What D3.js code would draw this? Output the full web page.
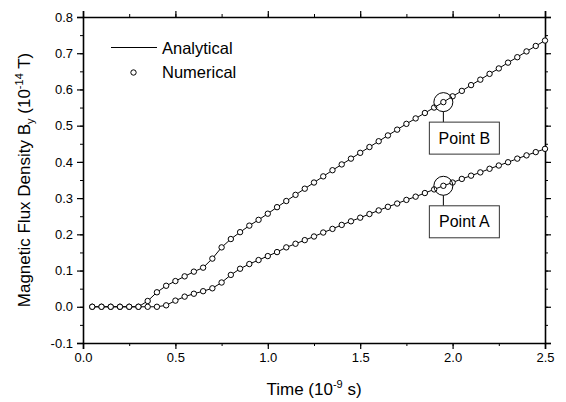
<!DOCTYPE html>
<html>
<head>
<meta charset="utf-8">
<script src="https://cdn.jsdelivr.net/npm/d3@7"></script>
<style>
  body { margin: 0; background: #fff; }
  text { font-family: "Liberation Sans", Arial, sans-serif; fill: #000; }
</style>
</head>
<body>
<svg id="chart" width="566" height="402"></svg>
<script>
// time in 1e-9 s, step 0.05
const times = d3.range(1, 51).map(i => +(i * 0.05).toFixed(2));

// point B (upper curve), 1e-14 T
const numericalB = [
  0, 0, 0, 0, 0, 0, 0.016, 0.040, 0.058, 0.071,
  0.084, 0.097, 0.108, 0.133, 0.164, 0.187, 0.206, 0.224, 0.240, 0.257,
  0.275, 0.292, 0.309, 0.326, 0.343, 0.360, 0.377, 0.393, 0.409, 0.425,
  0.441, 0.457, 0.473, 0.489, 0.505, 0.520, 0.535, 0.550, 0.565, 0.581,
  0.596, 0.612, 0.627, 0.643, 0.658, 0.674, 0.689, 0.705, 0.720, 0.735
];
// point A (lower curve)
const numericalA = [
  0, 0, 0, 0, 0, 0, 0, 0, 0.004, 0.017,
  0.028, 0.036, 0.043, 0.051, 0.067, 0.088, 0.105, 0.118, 0.129, 0.140,
  0.151, 0.164, 0.174, 0.184, 0.194, 0.205, 0.215, 0.226, 0.236, 0.246,
  0.256, 0.266, 0.276, 0.285, 0.295, 0.304, 0.314, 0.324, 0.334, 0.343,
  0.353, 0.362, 0.371, 0.381, 0.390, 0.399, 0.409, 0.418, 0.427, 0.436
];
// analytical solution passes through the same values at the sample times
const analyticalB = numericalB.slice();
const analyticalA = numericalA.slice();

const xTicks = [0, 0.5, 1.0, 1.5, 2.0, 2.5];
const yTicks = [-0.1, 0, 0.1, 0.2, 0.3, 0.4, 0.5, 0.6, 0.7, 0.8];

// annotated probe points
const probes = [
  { label: "Point B", t: 1.95, v: 0.565 },
  { label: "Point A", t: 1.95, v: 0.334 }
];

const margin = { left: 83, right: 21, top: 17, bottom: 59 };
const width = 566, height = 402;

const svg = d3.select('#chart');

const x = d3.scaleLinear().domain([0, 2.5]).range([margin.left, width - margin.right]);
const y = d3.scaleLinear().domain([-0.1, 0.8]).range([height - margin.bottom, margin.top]);

const minorX = d3.range(0, 2.51, 0.25);
const minorY = d3.range(-0.1, 0.801, 0.05);

// plain hyphen for negatives, like the original
const fmt = d => d.toFixed(1);

// axes: major ticks with labels, minor ticks without
function addAxis(axisFn, scale, pos, major, minor, labels) {
  svg.append('g')
    .attr('transform', pos)
    .call(axisFn(scale).tickValues(minor).tickSize(3).tickFormat(''))
    .call(g => g.select('.domain').remove());
  const g = svg.append('g')
    .attr('transform', pos)
    .call(axisFn(scale).tickValues(major).tickSize(6).tickPadding(4)
      .tickFormat(labels ? fmt : ''));
  g.select('.domain').attr('stroke-width', 1.6);
  g.selectAll('.tick line').attr('stroke-width', 1.2);
  g.selectAll('text').style('font-size', '13px').attr('fill', '#000');
  return g;
}

addAxis(d3.axisBottom, x, `translate(0,${y(-0.1)})`, xTicks, minorX, true);
addAxis(d3.axisTop, x, `translate(0,${y(0.8)})`, xTicks, minorX, false);
addAxis(d3.axisLeft, y, `translate(${x(0)},0)`, yTicks, minorY, true);
addAxis(d3.axisRight, y, `translate(${x(2.5)},0)`, yTicks, minorY, false);

// analytical lines
const line = d3.line().x((d, i) => x(times[i])).y(d => y(d));
[analyticalB, analyticalA].forEach(series => {
  svg.append('path')
    .datum(series)
    .attr('d', line)
    .attr('fill', 'none')
    .attr('stroke', '#000')
    .attr('stroke-width', 1);
});

// numerical circles
[numericalB, numericalA].forEach(series => {
  svg.append('g').selectAll('circle')
    .data(series)
    .enter()
    .append('circle')
    .attr('cx', (d, i) => x(times[i]))
    .attr('cy', d => y(d))
    .attr('r', 2.7)
    .attr('fill', '#fff')
    .attr('stroke', '#000')
    .attr('stroke-width', 1);
});

// probe annotations
probes.forEach(p => {
  const cx = x(p.t), cy = y(p.v);
  svg.append('circle')
    .attr('cx', cx).attr('cy', cy).attr('r', 9.5)
    .attr('fill', 'none').attr('stroke', '#000').attr('stroke-width', 1);
  svg.append('line')
    .attr('x1', cx).attr('x2', cx)
    .attr('y1', cy + 9.5).attr('y2', cy + 20)
    .attr('stroke', '#000').attr('stroke-width', 1);
  svg.append('rect')
    .attr('x', cx - 14).attr('y', cy + 20)
    .attr('width', 70).attr('height', 32)
    .attr('fill', '#fff').attr('stroke', '#333').attr('stroke-width', 1);
  svg.append('text')
    .attr('x', cx + 21).attr('y', cy + 41.5)
    .attr('text-anchor', 'middle')
    .style('font-size', '16px')
    .text(p.label);
});

// legend
const legend = svg.append('g');
legend.append('line')
  .attr('x1', 111).attr('x2', 157).attr('y1', 47.5).attr('y2', 47.5)
  .attr('stroke', '#000').attr('stroke-width', 1);
legend.append('text').attr('x', 162).attr('y', 54)
  .style('font-size', '16.5px').text('Analytical');
legend.append('circle')
  .attr('cx', 133.5).attr('cy', 72.5).attr('r', 2.7)
  .attr('fill', '#fff').attr('stroke', '#000');
legend.append('text').attr('x', 162).attr('y', 78)
  .style('font-size', '16.5px').text('Numerical');

// axis titles
const xt = svg.append('text')
  .attr('x', (x(0) + x(2.5)) / 2).attr('y', 395)
  .attr('text-anchor', 'middle')
  .style('font-size', '17px');
xt.append('tspan').text('Time (10');
xt.append('tspan').attr('dy', -7).style('font-size', '11px').text('-9');
xt.append('tspan').attr('dy', 7).text(' s)');

const yt = svg.append('text')
  .attr('transform', `translate(30,${(y(-0.1) + y(0.8)) / 2}) rotate(-90)`)
  .attr('text-anchor', 'middle')
  .style('font-size', '17px');
yt.append('tspan').text('Magnetic Flux Density B');
yt.append('tspan').attr('dy', 4).style('font-size', '11px').text('y');
yt.append('tspan').attr('dy', -4).text(' (10');
yt.append('tspan').attr('dy', -7).style('font-size', '11px').text('-14');
yt.append('tspan').attr('dy', 7).text(' T)');
</script>
</body>
</html>
